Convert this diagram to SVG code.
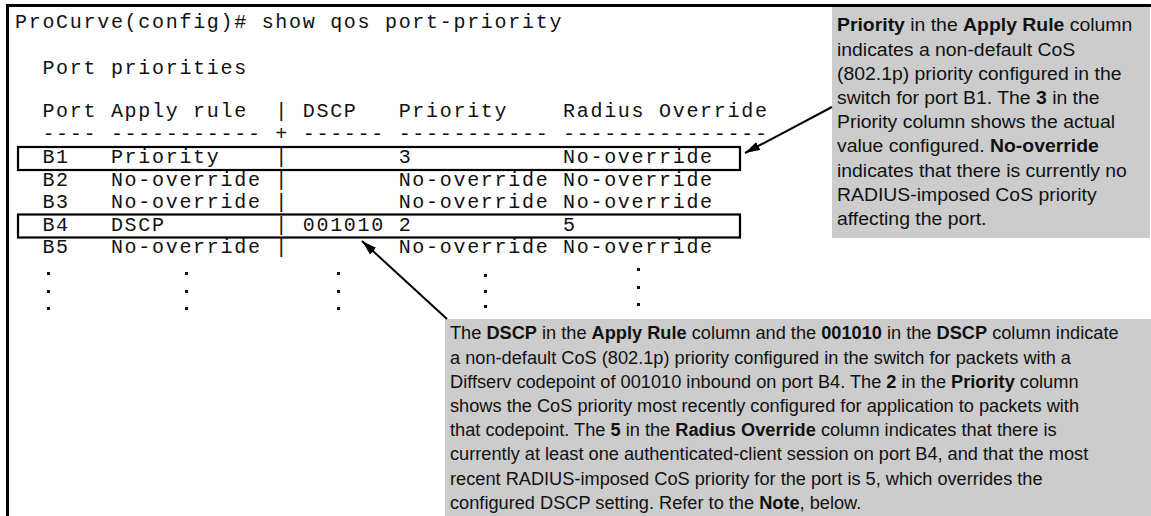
<svg xmlns="http://www.w3.org/2000/svg" width="1151" height="516" viewBox="0 0 1151 516">
  <style>
    .mono { font-family: "Liberation Mono", "Courier New", monospace; font-size: 20px; letter-spacing: 1.7px; fill: #111; white-space: pre; }
    .note { font-family: "Liberation Sans", Arial, sans-serif; font-size: 18.5px; fill: #111; }
    .b { font-weight: bold; }
    .frame { fill: none; stroke: #000; stroke-width: 3; }
    .hl { fill: none; stroke: #000; stroke-width: 2.2; }
    .callout { fill: #cccccc; }
    .dot { fill: #111; }
    .conn { fill: none; stroke: #000; stroke-width: 2; marker-end: url(#head); }
  </style>
  <defs>
    <marker id="head" viewBox="0 0 15 9" refX="15" refY="4.5" markerWidth="15" markerHeight="9" markerUnits="userSpaceOnUse" orient="auto">
      <path d="M0,0 L15,4.5 L0,9 z" fill="#000"/>
    </marker>
  </defs>

  <rect width="1151" height="516" fill="#fff"/>

  <!-- annotation panels -->
  <g id="note-b1">
    <rect class="callout" x="832" y="7" width="318" height="231"/>
    <g transform="translate(837 0) scale(1.049 1)">
      <text class="note" x="0" y="31.5"><tspan class="b">Priority</tspan> in the <tspan class="b">Apply Rule</tspan> column</text>
      <text class="note" x="0" y="55.7">indicates a non-default CoS</text>
      <text class="note" x="0" y="79.9">(802.1p) priority configured in the</text>
      <text class="note" x="0" y="104.1">switch for port B1. The <tspan class="b">3</tspan> in the</text>
      <text class="note" x="0" y="128.3">Priority column shows the actual</text>
      <text class="note" x="0" y="152.5">value configured. <tspan class="b">No-override</tspan></text>
      <text class="note" x="0" y="176.7">indicates that there is currently no</text>
      <text class="note" x="0" y="200.9">RADIUS-imposed CoS priority</text>
      <text class="note" x="0" y="225.1">affecting the port.</text>
    </g>
  </g>

  <g id="note-b4">
    <rect class="callout" x="445" y="319" width="706" height="197"/>
    <g transform="translate(450 0) scale(0.984 1)">
      <text class="note" x="0" y="339.5">The <tspan class="b">DSCP</tspan> in the <tspan class="b">Apply Rule</tspan> column and the <tspan class="b">001010</tspan> in the <tspan class="b">DSCP</tspan> column indicate</text>
      <text class="note" x="0" y="363.7">a non-default CoS (802.1p) priority configured in the switch for packets with a</text>
      <text class="note" x="0" y="387.9">Diffserv codepoint of 001010 inbound on port B4. The <tspan class="b">2</tspan> in the <tspan class="b">Priority</tspan> column</text>
      <text class="note" x="0" y="412.1">shows the CoS priority most recently configured for application to packets with</text>
      <text class="note" x="0" y="436.3">that codepoint. The <tspan class="b">5</tspan> in the <tspan class="b">Radius Override</tspan> column indicates that there is</text>
      <text class="note" x="0" y="460.5">currently at least one authenticated-client session on port B4, and that the most</text>
      <text class="note" x="0" y="484.7">recent RADIUS-imposed CoS priority for the port is 5, which overrides the</text>
      <text class="note" x="0" y="508.9">configured DSCP setting. Refer to the <tspan class="b">Note</tspan>, below.</text>
    </g>
  </g>

  <!-- CLI output window -->
  <g id="terminal">
    <path class="frame" d="M7.5,516 V5.5 H1151"/>
    <text class="mono" xml:space="preserve" x="15" y="28">ProCurve(config)# show qos port-priority</text>
    <text class="mono" xml:space="preserve" x="42.4" y="74">Port priorities</text>
    <text class="mono" xml:space="preserve" x="42.4" y="117">Port Apply rule  | DSCP   Priority    Radius Override</text>
    <text class="mono" xml:space="preserve" x="42.4" y="140">---- ----------- + ------ ----------- ---------------</text>
    <text class="mono" xml:space="preserve" x="42.4" y="163">B1   Priority    |        3           No-override</text>
    <text class="mono" xml:space="preserve" x="42.4" y="185.5">B2   No-override |        No-override No-override</text>
    <text class="mono" xml:space="preserve" x="42.4" y="208">B3   No-override |        No-override No-override</text>
    <text class="mono" xml:space="preserve" x="42.4" y="230.5">B4   DSCP        | 001010 2           5</text>
    <text class="mono" xml:space="preserve" x="42.4" y="253">B5   No-override |        No-override No-override</text>
    <!-- continuation marks under each column -->
    <g id="more-rows">
      <rect class="dot" x="47" y="272" width="3" height="3"/><rect class="dot" x="47" y="290" width="3" height="3"/><rect class="dot" x="47" y="307" width="3" height="3"/>
      <rect class="dot" x="185" y="272" width="3" height="3"/><rect class="dot" x="185" y="290" width="3" height="3"/><rect class="dot" x="185" y="307" width="3" height="3"/>
      <rect class="dot" x="337" y="272" width="3" height="3"/><rect class="dot" x="337" y="290" width="3" height="3"/><rect class="dot" x="337" y="307" width="3" height="3"/>
      <rect class="dot" x="484" y="274" width="3" height="3"/><rect class="dot" x="484" y="290" width="3" height="3"/><rect class="dot" x="484" y="305" width="3" height="3"/>
      <rect class="dot" x="637" y="268" width="3" height="3"/><rect class="dot" x="637" y="286" width="3" height="3"/><rect class="dot" x="637" y="303" width="3" height="3"/>
    </g>
  </g>

  <!-- row highlights -->
  <g id="row-b1">
    <rect class="hl" x="18" y="147" width="722" height="23"/>
  </g>
  <g id="row-b4">
    <rect class="hl" x="18" y="214.5" width="722" height="23"/>
  </g>

  <g id="connectors">
    <line class="conn" x1="832" y1="107" x2="745" y2="153"/>
    <line class="conn" x1="447" y1="319" x2="362" y2="241"/>
  </g>
</svg>
